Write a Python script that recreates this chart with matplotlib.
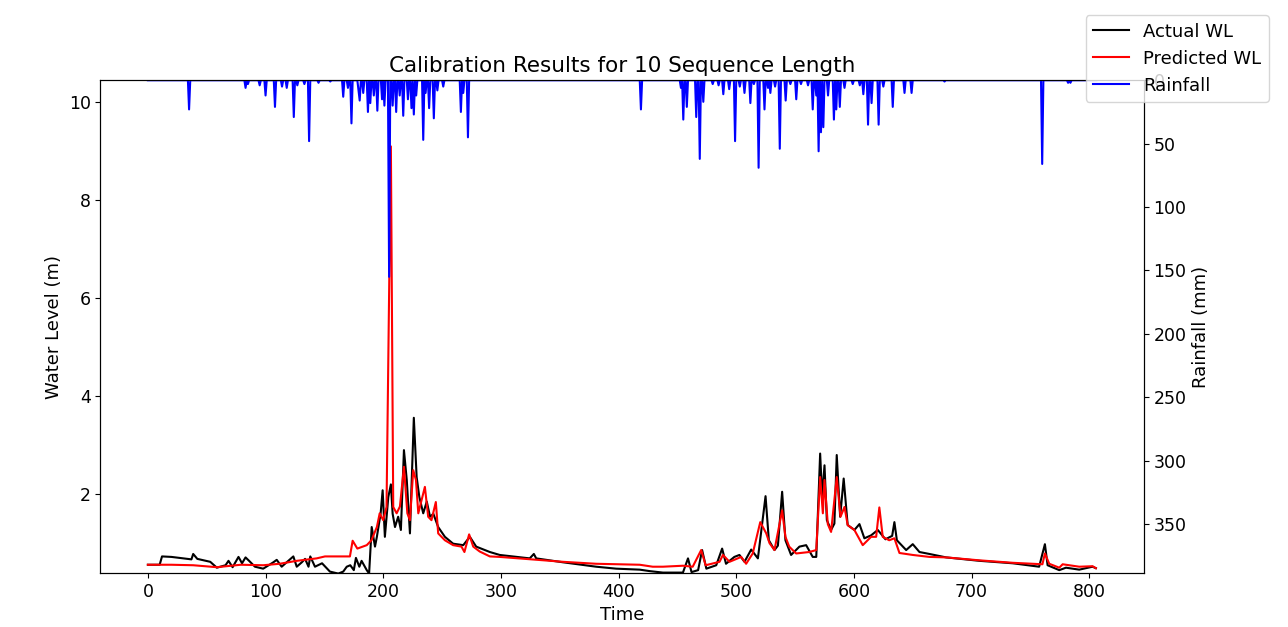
import numpy as np
import matplotlib.pyplot as plt

actual_t = [0, 10, 12, 20, 37, 38.5, 42, 53, 58.6, 66, 68.5, 72, 77, 80, 83, 86, 91, 98, 106.6,
            109.5, 113.7, 118, 123.6, 126.5, 130.8, 133.6, 136.5, 138, 142, 148, 154.7, 161.8, 166,
            169, 172, 175, 176.8, 179.7, 181.6, 186, 188, 190.2, 193, 194.6, 197.8, 199.5, 201.4,
            204.3, 206.5, 208, 210, 212.7, 215, 217.6, 220, 222.7, 226, 228.4, 230.7, 234, 237,
            239.8, 242.6, 246.7, 252.4, 259.4, 268, 273.6, 279, 290.6, 299, 324.5, 328, 330, 352.8,
            381, 398, 418, 426.5, 437.7, 454.7, 459, 462, 467.6, 471, 474.6, 483, 488, 491.3, 498.4,
            502.7, 507, 512.7, 518.4, 524.9, 527.7, 532.5, 535.4, 539, 541.8, 546.6, 553.7, 559.4,
            565, 568, 571.3, 573, 575, 577, 580.6, 583.4, 585.4, 588.3, 591.3, 594.7, 600.4, 604.7,
            608.9, 614.6, 620.3, 626.8, 632.5, 634.4, 636.5, 644.4, 650, 655.7, 664.2, 678.4, 706.7,
            735, 757.4, 762.3, 764.6, 774.5, 780.2, 791.5, 802.8, 805.6]
actual_wl = [0.56, 0.56, 0.73, 0.72, 0.67, 0.78, 0.68, 0.62, 0.50, 0.55, 0.64, 0.51, 0.72, 0.59,
             0.71, 0.64, 0.52, 0.48, 0.61, 0.66, 0.52, 0.61, 0.73, 0.52, 0.61, 0.68, 0.52, 0.73,
             0.52, 0.59, 0.42, 0.38, 0.42, 0.52, 0.55, 0.45, 0.70, 0.52, 0.64, 0.45, 0.38, 1.33,
             0.93, 1.13, 1.61, 2.08, 1.13, 1.94, 2.2, 1.6, 1.33, 1.54, 1.27, 2.90, 2.29, 1.20, 3.56,
             2.35, 1.94, 1.61, 1.85, 1.54, 1.60, 1.33, 1.13, 0.99, 0.96, 1.13, 0.93, 0.82, 0.76,
             0.69, 0.78, 0.69, 0.61, 0.52, 0.48, 0.46, 0.43, 0.40, 0.40, 0.69, 0.41, 0.45, 0.86,
             0.48, 0.55, 0.89, 0.58, 0.72, 0.76, 0.62, 0.87, 0.69, 1.96, 1.06, 0.86, 0.95, 2.05,
             1.06, 0.76, 0.93, 0.96, 0.72, 0.72, 2.83, 1.94, 2.59, 1.47, 1.27, 1.40, 2.80, 1.54,
             2.32, 1.37, 1.27, 1.39, 1.10, 1.16, 1.27, 1.08, 1.15, 1.43, 1.06, 0.86, 0.98, 0.82,
             0.78, 0.71, 0.64, 0.59, 0.52, 0.98, 0.55, 0.45, 0.50, 0.46, 0.52, 0.49]

# predicted water level (m)
pred_t = [0, 10, 20, 38.5, 58.6, 79, 98, 112, 126.5, 143.4, 150.5, 171.7, 174, 178, 186, 190,
          194.6, 197, 200, 202.8, 206.5, 208.5, 211.4, 214.2, 217.6, 220.5, 222.7, 225.5, 227.8,
          229.8, 235.4, 238.2, 241, 244.7, 246.7, 252.4, 259.4, 266.5, 269, 273, 276.5, 282, 290.6,
          299, 352.8, 381, 418, 429, 437.7, 454.7, 463, 470.2, 474, 485.8, 488.7, 494.3, 504.2,
          508.4, 514, 520.4, 525.5, 528.3, 532.5, 539, 541.8, 545, 550.9, 562, 568, 571.3, 573.6,
          575, 577.8, 580.6, 585.4, 588.6, 592, 594.7, 600.4, 607.5, 614.6, 618.9, 621.6, 624.5,
          630, 634.4, 638.7, 650, 664.2, 678.4, 706.7, 735, 760.2, 762.3, 766, 774.5, 777.4,
          791.5, 802.8, 805.6]
pred_wl = [0.56, 0.56, 0.56, 0.55, 0.51, 0.56, 0.55, 0.58, 0.64, 0.69, 0.73, 0.73, 1.05, 0.89,
           0.96, 1.06, 1.33, 1.61, 1.47, 1.74, 9.1, 1.74, 1.61, 1.75, 2.56, 1.61, 1.47, 2.49, 2.29,
           1.61, 2.15, 1.54, 1.47, 1.84, 1.20, 1.06, 0.96, 0.93, 0.82, 1.18, 0.93, 0.83, 0.73,
           0.72, 0.62, 0.58, 0.56, 0.52, 0.52, 0.54, 0.52, 0.86, 0.55, 0.62, 0.76, 0.62, 0.72,
           0.58, 0.79, 1.43, 1.20, 1.00, 0.86, 1.67, 1.13, 0.93, 0.79, 0.82, 0.86, 2.35, 1.61,
           2.29, 1.39, 1.23, 2.35, 1.54, 1.74, 1.37, 1.27, 0.96, 1.13, 1.13, 1.73, 1.13, 1.06, 1.10,
           0.80, 0.76, 0.72, 0.71, 0.65, 0.60, 0.57, 0.79, 0.58, 0.50, 0.57, 0.52, 0.53, 0.49]

# daily rainfall (mm), days with rain only
rain_day = [35, 83, 85, 95, 100, 108, 114, 118, 124, 127, 133, 137, 145, 155, 166, 170, 173, 179,
            180, 183, 187, 189, 192, 195, 199, 201, 205, 208, 211, 214, 217, 221, 224, 226, 228,
            234, 236, 239, 243, 246, 251, 266, 268, 272,
            419, 453, 455, 458, 466, 469, 472, 480, 485, 489, 494, 499, 503, 507, 512, 515, 519,
            524, 527, 529, 533, 537, 542, 546, 551, 555, 561, 565, 568, 570, 572, 574, 578, 583,
            585, 588, 592, 599, 605, 608, 612, 615, 621, 625, 633, 643, 649, 677, 760, 782, 784]
rain_mm = [23, 6, 3, 4, 12, 21, 5, 6, 29, 4, 3, 48, 2, 1, 13, 6, 34, 8,
           16, 10, 25, 18, 12, 24, 15, 20, 155, 20, 25, 12, 28, 15, 22, 27, 12,
           47, 10, 22, 30, 8, 5, 25, 10, 45,
           23, 6, 31, 21, 29, 62, 17, 3, 4, 11, 7, 48, 5, 10, 18, 3, 69,
           23, 6, 10, 5, 54, 16, 3, 15, 3, 4, 23, 12, 56, 41, 37, 12, 31,
           23, 21, 6, 3, 4, 11, 35, 18, 35, 5, 21, 10, 10, 1, 66, 2, 2]

n_days = 807
rain = np.zeros(n_days)
rain[rain_day] = rain_mm

plt.rcParams['font.size'] = 12.5

fig, ax1 = plt.subplots(figsize=(12.88, 6.27), dpi=100)
fig.subplots_adjust(left=0.078, right=0.888, bottom=0.086, top=0.872)

ax1.plot(actual_t, actual_wl, color='black', label='Actual WL')
ax1.plot(pred_t, pred_wl, color='red', label='Predicted WL')
ax1.set_xlabel('Time', fontsize=13)
ax1.set_ylabel('Water Level (m)', fontsize=13)
ax1.set_ylim(0.39, 10.45)

ax2 = ax1.twinx()
ax2.plot(np.arange(n_days), rain, color='blue', label='Rainfall')
ax2.set_ylabel('Rainfall (mm)', fontsize=13)
ax2.set_ylim(388.6, 0)

plt.title('Calibration Results for 10 Sequence Length', fontsize=15.5)
fig.legend(loc='upper right', fontsize=13, bbox_to_anchor=(0.992, 0.99))

plt.savefig('out.png')
